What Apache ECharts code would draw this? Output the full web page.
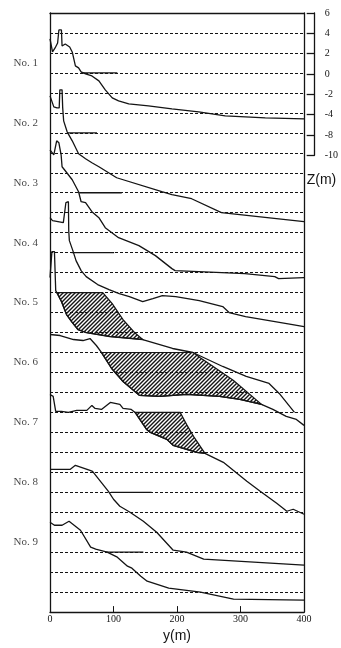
<!DOCTYPE html>
<html>
<head>
<meta charset="utf-8">
<script src="https://cdn.jsdelivr.net/npm/echarts@6/dist/echarts.min.js"></script>
<style>
html, body { margin: 0; padding: 0; background: #fff; }
#chart { width: 341px; height: 648px; }
</style>
</head>
<body>
<div id="chart"></div>
<script>
// beach profiles, each one drawn 6 m below the one before
const profileNames = ['No. 1', 'No. 2', 'No. 3', 'No. 4', 'No. 5', 'No. 6', 'No. 7', 'No. 8', 'No. 9'];
const stackStep = 6;
const labelZ = 1;
const zTickLabels = ['-10', '-8', '-4', '-2', '0', '2', '4', '6'];

// distance y (m) and elevation Z (m) of each profile
const p1X = [0, 4, 8, 12, 14, 18, 19, 24, 31, 35, 38, 40, 45, 49, 56, 66, 77, 87, 98, 108, 124, 155, 192, 234, 276, 339, 400];
const p1Z = [3.4, 2.1, 2.5, 3.0, 4.3, 4.3, 2.7, 2.9, 2.6, 2.1, 1.9, 0.7, 0.5, 0.1, -0.1, -0.3, -0.8, -1.7, -2.5, -2.8, -3.1, -3.3, -3.6, -3.9, -4.3, -4.5, -4.6];

const p2X = [0, 6, 11, 14.5, 15.5, 19, 20, 21.5, 27, 35, 45, 56, 66, 77, 105, 176, 192, 223, 270, 400];
const p2Z = [3.7, 2.6, 2.5, 2.5, 4.3, 4.3, 2.5, 1.2, 0.1, -0.8, -2.1, -2.6, -3.0, -3.4, -4.5, -5.9, -6.2, -6.6, -8.0, -8.9];

const p3X = [0, 6, 10.5, 14, 17.5, 19, 24, 35, 45, 49, 56, 66, 77, 87, 108, 140, 166, 192, 197, 234, 307, 354, 360, 400];
const p3Z = [4.3, 3.8, 5.2, 5.0, 3.8, 2.6, 2.2, 1.3, 0.1, -0.9, -1.0, -1.9, -2.5, -3.5, -4.5, -5.3, -6.3, -7.6, -7.8, -7.9, -8.1, -8.4, -8.6, -8.5];

const p4X = [0, 4, 21, 25, 29, 29.5, 30.5, 36, 41, 49, 57, 75, 93, 109, 125, 146, 162, 177, 198, 235, 272, 282, 308, 382, 400];
const p4Z = [3.5, 3.2, 3.0, 5.0, 5.1, 2.2, 1.2, 0.2, -0.8, -1.8, -2.4, -3.2, -3.7, -4.1, -4.4, -4.9, -4.6, -4.3, -4.4, -4.8, -5.4, -6.0, -6.4, -7.2, -7.4];

const p5X = [0, 3, 7, 9, 18, 26, 34, 44, 57, 94, 146, 193, 225, 272, 309, 345, 361, 385];
const p5Z = [3.5, 6.1, 6.1, 2.2, 1.1, -0.2, -0.9, -1.7, -2.0, -2.4, -2.7, -3.6, -4.0, -5.4, -6.4, -7.1, -8.1, -10.0];

const p6X = [0, 16, 37, 52, 63, 73, 81, 97, 115, 141, 173, 215, 267, 299, 333, 351, 372, 388, 400];
const p6Z = [3.8, 3.7, 3.3, 3.2, 3.4, 2.7, 2.0, 0.4, -0.9, -2.3, -2.4, -2.2, -2.4, -2.7, -3.2, -3.7, -4.4, -4.7, -5.3];

const p7X = [0, 5, 9, 18, 29, 42, 58, 66, 71, 81, 95, 110, 115, 128, 134, 152, 158, 184, 194, 231, 244, 273, 310, 331, 357, 373, 383, 400];
const p7Z = [3.8, 3.6, 2.1, 2.1, 2.0, 2.2, 2.2, 2.7, 2.4, 2.3, 3.0, 2.8, 2.4, 2.3, 2.0, 0.3, 0.0, -0.7, -1.3, -2.0, -2.1, -3.0, -4.9, -5.9, -7.1, -7.9, -7.7, -8.2];

const p8X = [0, 32, 40, 63, 67, 82, 92, 100, 110, 126, 147, 168, 194, 215, 242, 400];
const p8Z = [2.3, 2.3, 2.7, 2.2, 2.1, 0.9, 0.1, -0.7, -1.4, -2.0, -2.9, -4.0, -5.8, -6.0, -6.7, -7.3];

const p9X = [0, 7, 19, 30, 38, 48, 64, 72, 90, 106, 122, 129, 143, 153, 187, 237, 289, 400];
const p9Z = [3.0, 2.7, 2.7, 3.1, 2.7, 2.2, 0.5, 0.3, 0.0, -0.5, -1.4, -1.6, -2.4, -2.9, -3.6, -4.0, -4.7, -4.8];

// short solid sea level (Z = 0) marks: [from, to] in m
const seaLevelX = [[49, 106], [27, 74], [46, 113], [34, 101], null, null, null, [96, 160], [87, 147]];

// hatched areas (outline vertices)
const hatch5X = [11, 83, 98, 115, 133, 146, 94, 57, 44, 34, 26, 18];
const hatch5Z = [2, 2, 0.9, -0.7, -2.0, -2.7, -2.4, -2.0, -1.7, -0.9, -0.2, 1.1];
const hatch6X = [81, 226, 236, 257, 289, 333, 299, 267, 215, 173, 141, 115, 97];
const hatch6Z = [2, 2, 1.5, 0.6, -0.8, -3.2, -2.7, -2.4, -2.2, -2.4, -2.3, -0.9, 0.4];
const hatch7X = [134, 205, 215, 226, 244, 231, 194, 184, 158, 152];
const hatch7Z = [2, 2, 0.8, -0.4, -2.1, -2.0, -1.3, -0.7, 0.0, 0.3];

const profilesX = [p1X, p2X, p3X, p4X, p5X, p6X, p7X, p8X, p9X];
const profilesZ = [p1Z, p2Z, p3Z, p4Z, p5Z, p6Z, p7Z, p8Z, p9Z];
const hatches = [
  { k: 4, x: hatch5X, z: hatch5Z },
  { k: 5, x: hatch6X, z: hatch6Z },
  { k: 6, x: hatch7X, z: hatch7Z }
];

const ink = '#141414';
const serif = "'Liberation Serif', 'DejaVu Serif', serif";

// diagonal hatch tile
const tile = document.createElement('canvas');
tile.width = 4;
tile.height = 4;
const tc = tile.getContext('2d');
tc.strokeStyle = ink;
tc.lineWidth = 1.4;
tc.beginPath();
tc.moveTo(0, 4); tc.lineTo(4, 0);
tc.moveTo(-1, 1); tc.lineTo(1, -1);
tc.moveTo(3, 5); tc.lineTo(5, 3);
tc.stroke();
const hatchFill = { image: tile, repeat: 'repeat' };

const series = [];

hatches.forEach(function (h) {
  const off = -stackStep * h.k;
  const pts = h.x.map(function (x, i) { return [x, h.z[i] + off]; });
  series.push({
    type: 'custom',
    xAxisIndex: 0,
    yAxisIndex: 0,
    silent: true,
    z: 3,
    data: pts,
    renderItem: function (params, api) {
      if (params.dataIndex !== 0) return;
      return {
        type: 'polygon',
        shape: { points: pts.map(function (p) { return api.coord(p); }) },
        style: { fill: hatchFill, stroke: ink, lineWidth: 1.2 }
      };
    }
  });
});

profilesX.forEach(function (xs, k) {
  const off = -stackStep * k;
  series.push({
    type: 'line',
    xAxisIndex: 0,
    yAxisIndex: 0,
    symbol: 'none',
    silent: true,
    z: 4,
    lineStyle: { color: ink, width: 1.3 },
    data: xs.map(function (x, i) { return [x, profilesZ[k][i] + off]; })
  });
  if (seaLevelX[k]) {
    series.push({
      type: 'line',
      xAxisIndex: 0,
      yAxisIndex: 0,
      symbol: 'none',
      silent: true,
      z: 4,
      lineStyle: { color: ink, width: 1.3 },
      data: seaLevelX[k].map(function (x) { return [x, off]; })
    });
  }
});

// profile names at the left
series.push({
  type: 'scatter',
  xAxisIndex: 0,
  yAxisIndex: 0,
  symbolSize: 0,
  silent: true,
  data: profileNames.map(function (n, k) { return { name: n, value: [0, labelZ - stackStep * k] }; }),
  label: {
    show: true,
    position: 'left',
    distance: 12,
    formatter: '{b}',
    fontFamily: serif,
    fontSize: 11,
    color: ink
  }
});

const chart = echarts.init(document.getElementById('chart'));
chart.setOption({
  animation: false,
  backgroundColor: '#fff',
  grid: [
    { left: 50, top: 13, width: 254, height: 610 },
    { left: 308, top: 13, width: 8, height: 142.33 }
  ],
  xAxis: [
    {
      gridIndex: 0,
      type: 'value',
      min: 0,
      max: 400,
      interval: 100,
      position: 'bottom',
      axisLine: { onZero: false, lineStyle: { color: ink, width: 1.3 } },
      axisTick: { inside: true, length: 6, lineStyle: { color: ink } },
      axisLabel: { margin: 2, fontFamily: serif, fontSize: 10, color: ink },
      splitLine: { show: false },
      name: 'y(m)',
      nameLocation: 'middle',
      nameGap: 16,
      nameTextStyle: { fontFamily: "'Liberation Sans', Arial, sans-serif", fontSize: 14, color: ink }
    },
    {
      gridIndex: 0,
      type: 'value',
      min: 0,
      max: 400,
      position: 'top',
      axisLine: { onZero: false, lineStyle: { color: ink, width: 1.3 } },
      axisTick: { show: false },
      axisLabel: { show: false },
      splitLine: { show: false }
    },
    { gridIndex: 1, type: 'value', show: false }
  ],
  yAxis: [
    {
      gridIndex: 0,
      type: 'value',
      min: -54,
      max: 6,
      interval: 2,
      position: 'left',
      axisLine: { show: true, onZero: false, lineStyle: { color: ink, width: 1.3 } },
      axisTick: { show: false },
      axisLabel: { show: false },
      splitLine: { show: true, lineStyle: { color: ink, width: 1, type: [3, 2] } }
    },
    {
      gridIndex: 0,
      type: 'value',
      min: -54,
      max: 6,
      position: 'right',
      axisLine: { show: true, onZero: false, lineStyle: { color: ink, width: 1.3 } },
      axisTick: { show: false },
      axisLabel: { show: false },
      splitLine: { show: false }
    },
    {
      gridIndex: 1,
      type: 'category',
      data: zTickLabels,
      boundaryGap: false,
      position: 'right',
      axisLine: { show: true, onZero: false, lineStyle: { color: ink, width: 1.3 } },
      axisTick: { show: true, inside: true, length: 8, interval: 0, lineStyle: { color: ink, width: 1.3 } },
      axisLabel: { interval: 0, margin: 10, fontFamily: serif, fontSize: 10, color: ink },
      splitLine: { show: false },
      name: 'Z(m)',
      nameLocation: 'start',
      nameGap: 18,
      nameTextStyle: { fontFamily: "'Liberation Sans', Arial, sans-serif", fontSize: 14, color: ink, align: 'left', padding: [0, 0, 0, -8] }
    }
  ],
  series: series
});
</script>
</body>
</html>
